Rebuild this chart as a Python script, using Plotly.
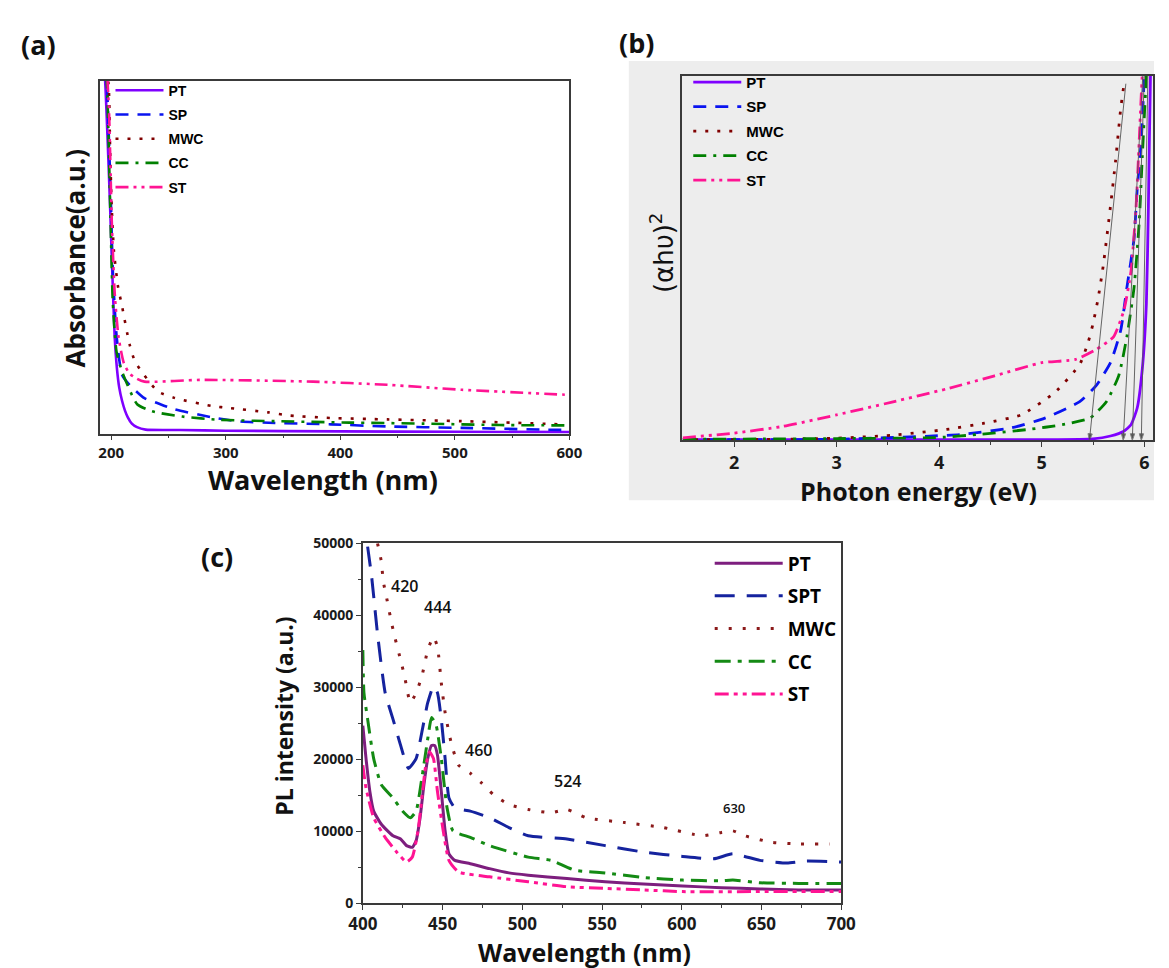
import plotly.graph_objects as go

# ---------------- Panel (a): absorbance ----------------
a_PT_x = [193, 195, 197, 199, 201, 203, 205, 207, 209.5, 212, 214.5, 218, 222.5, 230, 260, 300, 400, 500, 600]
a_PT_y = [1.1, 0.98, 0.82, 0.645, 0.45, 0.276, 0.184, 0.13, 0.092, 0.065, 0.046, 0.028, 0.018, 0.011, 0.01, 0.008, 0.006, 0.005, 0.004]
a_SP_x = [194, 196.5, 199.8, 201.4, 204.7, 209.5, 216, 229, 239, 255, 288, 310, 343, 392, 441, 506, 578, 600]
a_SP_y = [1.1, 0.97, 0.645, 0.46, 0.276, 0.166, 0.138, 0.10, 0.088, 0.069, 0.046, 0.035, 0.03, 0.026, 0.02, 0.016, 0.011, 0.01]
a_MWC_x = [195, 198, 199, 200.4, 202.4, 206, 209.5, 216, 221, 240.5, 255, 288, 304, 337, 356, 392, 441, 506, 594]
a_MWC_y = [1.1, 0.97, 0.81, 0.645, 0.516, 0.415, 0.36, 0.253, 0.203, 0.12, 0.101, 0.078, 0.072, 0.06, 0.051, 0.044, 0.04, 0.035, 0.026]
a_CC_x = [194, 196.5, 199.1, 201.4, 204.7, 209.5, 216, 222.6, 235.6, 262, 294, 343, 408, 473.5, 539, 596]
a_CC_y = [1.1, 0.97, 0.645, 0.37, 0.23, 0.175, 0.124, 0.083, 0.063, 0.048, 0.039, 0.035, 0.031, 0.028, 0.024, 0.023]
a_ST_x = [195, 198, 200.5, 203, 206.3, 211, 216, 222.6, 229, 278, 376, 441, 506, 596]
a_ST_y = [1.1, 0.92, 0.6, 0.4, 0.276, 0.2, 0.17, 0.155, 0.147, 0.152, 0.147, 0.138, 0.124, 0.11]
a_names = ["PT", "SP", "MWC", "CC", "ST"]

# ---------------- Panel (b): Tauc plot ----------------
b_PT_x = [1.5, 3.0, 5.0, 5.5, 5.67, 5.8, 5.87, 5.93, 5.98, 6.02, 6.04, 6.06, 6.07]
b_PT_y = [0.002, 0.002, 0.002, 0.004, 0.012, 0.025, 0.043, 0.088, 0.195, 0.374, 0.642, 1.0, 1.05]
b_SP_x = [1.5, 3.0, 4.2, 4.7, 5.03, 5.37, 5.53, 5.67, 5.77, 5.83, 5.9, 5.93, 5.97, 6.0, 6.01]
b_SP_y = [0.002, 0.003, 0.016, 0.034, 0.061, 0.106, 0.15, 0.213, 0.302, 0.419, 0.553, 0.687, 0.82, 1.0, 1.05]
b_MWC_x = [1.5, 2.5, 3.0, 3.54, 4.07, 4.44, 4.8, 5.13, 5.37, 5.45, 5.5, 5.55, 5.6, 5.67, 5.72, 5.77, 5.8]
b_MWC_y = [0.002, 0.003, 0.006, 0.014, 0.03, 0.047, 0.07, 0.132, 0.208, 0.267, 0.32, 0.39, 0.48, 0.642, 0.767, 0.91, 0.973]
b_CC_x = [1.5, 3.0, 4.0, 4.37, 4.87, 5.2, 5.47, 5.63, 5.75, 5.83, 5.9, 5.95, 5.98, 6.02, 6.03]
b_CC_y = [0.003, 0.005, 0.008, 0.016, 0.03, 0.043, 0.061, 0.106, 0.177, 0.284, 0.419, 0.597, 0.776, 1.0, 1.05]
b_ST_x = [1.5, 2.0, 2.47, 3.0, 3.54, 4.07, 4.54, 5.0, 5.33, 5.53, 5.7, 5.8, 5.87, 5.92, 5.95, 5.98, 6.0]
b_ST_y = [0.007, 0.02, 0.038, 0.07, 0.105, 0.141, 0.177, 0.213, 0.222, 0.249, 0.284, 0.356, 0.463, 0.642, 0.82, 1.0, 1.05]
# tangent (band-gap extrapolation) lines
b_gap_x = [5.465, 5.794, 5.883, 5.971]
b_tan_top_x = [5.82, 5.985, 6.0, 6.035]
b_tan_top_y = [0.978, 1.0, 1.0, 1.0]

# ---------------- Panel (c): PL spectra ----------------
c_PT_x = [400, 402, 404.4, 406.8, 411.6, 418.9, 423.7, 427.4, 431, 433.4, 435.9, 438.3, 440.7, 443.1, 445, 446.8, 449.2, 451.6, 454, 457.7, 467.4, 479.5, 491.6, 503.7, 528, 552, 576, 600.6, 624.9, 649, 673, 700]
c_PT_y = [24660, 20090, 15520, 12780, 10960, 9360, 8900, 7990, 7760, 8680, 11870, 16440, 20090, 21920, 21920, 20550, 15520, 10050, 6850, 5940, 5480, 4790, 4200, 3880, 3420, 2970, 2650, 2370, 2150, 1960, 1830, 1830]
c_SPT_x = [403, 405.6, 409.2, 414, 418.9, 423.7, 428.6, 433.4, 437, 440.7, 444.3, 446.8, 449.2, 451.6, 454, 457.7, 467.4, 479.5, 491.6, 503.7, 528, 552, 576.4, 600.6, 620, 632, 649, 666, 678, 700]
c_SPT_y = [49540, 45200, 37440, 29220, 25570, 21920, 18720, 20090, 23740, 27850, 30140, 29220, 25570, 20090, 14610, 13240, 12780, 11870, 10500, 9360, 8900, 7990, 7080, 6480, 6160, 6850, 5940, 5570, 5840, 5710]
c_MWC_x = [409.2, 411.6, 412.8, 415.3, 417.7, 420, 423.7, 426.2, 429.8, 433.4, 437, 440.7, 444.3, 446.8, 449.2, 451.6, 455.3, 460, 467.4, 474.6, 481.9, 491.6, 503.7, 518, 528, 540, 564.3, 588.5, 612.7, 624.9, 632, 639.4, 656.4, 673.3, 692.7]
c_MWC_y = [50000, 47490, 44750, 42000, 39270, 37000, 33790, 31500, 27850, 29220, 31500, 35160, 37000, 35620, 30590, 26480, 22370, 19180, 18040, 16670, 15070, 13700, 13010, 12560, 13010, 11870, 11190, 10500, 9360, 9820, 10050, 9360, 8450, 8220, 8220]
c_CC_x = [400, 400.7, 403, 406.8, 411.6, 418.9, 425, 429.8, 433.4, 437, 440.7, 443.1, 446, 449.2, 452.8, 456.5, 467.4, 479.5, 503.7, 518, 532.8, 552, 576.4, 600.6, 624.9, 632, 649, 673.3, 700]
c_CC_y = [35160, 29220, 25570, 20090, 16440, 14610, 12780, 11870, 12780, 17350, 22830, 25800, 24660, 20090, 13240, 10050, 9130, 7990, 6390, 5940, 4570, 4200, 3560, 3200, 3100, 3200, 2830, 2740, 2740]
c_ST_x = [400, 402, 406.8, 414, 421.3, 427.4, 431, 434.6, 437, 439.5, 441.9, 444.3, 446.8, 450.4, 454, 460, 479.5, 503.7, 528, 552, 576.4, 600.6, 649, 700]
c_ST_y = [19180, 15980, 11870, 9130, 7080, 5710, 6390, 10050, 14610, 19180, 21000, 20090, 15520, 10050, 5940, 4340, 3650, 2970, 2280, 2050, 1830, 1600, 1600, 1600]
c_names = ["PT", "SPT", "MWC", "CC", "ST"]
c_peak_labels = ["420", "444", "460", "524", "630"]
c_peak_x = [426, 446.8, 472.5, 528.5, 633]
c_peak_y = [42300, 39300, 19500, 15100, 11700]

W, H = 1169, 968
def px(x):
    return x / W
def py(y):
    return 1 - y / H

colors_ab = ["#7F00FF", "#0A14F0", "#800000", "#008000", "#FF1493"]
dashes_ab = ["solid", "13px,9px", "3px,9px", "13px,7px,3px,7px", "13px,5px,3px,5px,3px,5px"]
colors_c = ["#7D1E7E", "#15239E", "#8B1A1A", "#148A14", "#FF1493"]
dashes_c = ["solid", "20px,12px", "3px,11px", "16px,7px,4px,7px", "14px,5px,4px,5px,4px,5px"]

fig = go.Figure()

a_data = [(a_PT_x, a_PT_y), (a_SP_x, a_SP_y), (a_MWC_x, a_MWC_y), (a_CC_x, a_CC_y), (a_ST_x, a_ST_y)]
for i, (xs, ys) in enumerate(a_data):
    fig.add_trace(go.Scatter(x=xs, y=ys, mode="lines", name=a_names[i], xaxis="x", yaxis="y",
                             line=dict(color=colors_ab[i], width=2.6, dash=dashes_ab[i], shape="spline", smoothing=0.6),
                             legend="legend", legendgroup="a" + str(i)))

b_data = [(b_PT_x, b_PT_y), (b_SP_x, b_SP_y), (b_MWC_x, b_MWC_y), (b_CC_x, b_CC_y), (b_ST_x, b_ST_y)]
for i, (xs, ys) in enumerate(b_data):
    fig.add_trace(go.Scatter(x=xs, y=ys, mode="lines", name=a_names[i], xaxis="x2", yaxis="y2",
                             line=dict(color=colors_ab[i], width=2.8, dash=dashes_ab[i], shape="spline", smoothing=0.5),
                             legend="legend2", legendgroup="b" + str(i)))
for i in range(len(b_gap_x)):
    fig.add_trace(go.Scatter(x=[b_tan_top_x[i], b_gap_x[i]], y=[b_tan_top_y[i], 0], mode="lines+markers",
                             xaxis="x2", yaxis="y2", showlegend=False, hoverinfo="skip",
                             line=dict(color="#555555", width=0.9),
                             marker=dict(symbol="arrow", angleref="previous", size=[0, 7], color="#111111")))

c_data = [(c_PT_x, c_PT_y), (c_SPT_x, c_SPT_y), (c_MWC_x, c_MWC_y), (c_CC_x, c_CC_y), (c_ST_x, c_ST_y)]
for i, (xs, ys) in enumerate(c_data):
    fig.add_trace(go.Scatter(x=xs, y=ys, mode="lines", name=c_names[i], xaxis="x3", yaxis="y3",
                             line=dict(color=colors_c[i], width=3, dash=dashes_c[i], shape="spline", smoothing=0.5),
                             legend="legend3", legendgroup="c" + str(i)))

tickfont_base = dict(family="Open Sans", color="#1a1a1a", weight="bold")
frame = dict(showline=True, mirror=True, linecolor="#3a3a3a", linewidth=1.6, showgrid=False, zeroline=False)

fig.update_layout(
    width=W, height=H, margin=dict(l=0, r=0, t=0, b=0),
    paper_bgcolor="white", plot_bgcolor="white",
    xaxis=dict(domain=[px(87), px(569)], range=[190, 600], anchor="y", tickvals=[200, 300, 400, 500, 600],
               ticks="outside", ticklen=5, tickwidth=1.2, tickcolor="#3a3a3a",
               minor=dict(tickvals=[250, 350, 450, 550], ticks="outside", ticklen=3, tickcolor="#3a3a3a"),
               tickfont=dict(size=15, **tickfont_base), **frame),
    yaxis=dict(domain=[py(432), py(72)], range=[0, 1], anchor="x", showticklabels=False, ticks="", **frame),
    xaxis2=dict(domain=[px(685), px(1168)], range=[1.496, 6.085], anchor="y2", tickvals=[2, 3, 4, 5, 6],
                ticks="outside", ticklen=5, tickwidth=1.2, tickcolor="#3a3a3a",
                minor=dict(tickvals=[2.5, 3.5, 4.5, 5.5], ticks="outside", ticklen=3, tickcolor="#3a3a3a"),
                tickfont=dict(size=18, **tickfont_base), **frame),
    yaxis2=dict(domain=[py(439), py(67)], range=[0, 1], anchor="x2", showticklabels=False, ticks="", **frame),
    xaxis3=dict(domain=[px(357), px(848)], range=[400, 700], anchor="y3", dtick=50,
                ticks="outside", ticklen=5, tickwidth=1.2, tickcolor="#3a3a3a",
                minor=dict(dtick=25, ticks="outside", ticklen=3, tickcolor="#3a3a3a"),
                tickfont=dict(size=17, **tickfont_base), **frame),
    yaxis3=dict(domain=[py(911), py(544)], range=[0, 50000], anchor="x3", dtick=10000, tickformat="d",
                ticks="outside", ticklen=5, tickwidth=1.2, tickcolor="#3a3a3a",
                minor=dict(dtick=5000, ticks="outside", ticklen=3, tickcolor="#3a3a3a"),
                tickfont=dict(size=14, **tickfont_base), **frame),
    legend=dict(x=px(98), y=py(66), xanchor="left", yanchor="top", bgcolor="rgba(0,0,0,0)",
                font=dict(family="Liberation Sans", size=14, color="black", weight="bold"),
                itemwidth=48, tracegroupgap=3, traceorder="grouped"),
    legend2=dict(x=px(691), y=py(57), xanchor="left", yanchor="top", bgcolor="rgba(0,0,0,0)",
                 font=dict(family="Liberation Sans", size=15, color="black", weight="bold"),
                 itemwidth=48, tracegroupgap=2, traceorder="grouped"),
    legend3=dict(x=px(713), y=py(545), xanchor="left", yanchor="top", bgcolor="rgba(0,0,0,0)",
                 font=dict(family="Open Sans", size=19, color="black", weight="bold"),
                 itemwidth=68, tracegroupgap=5, traceorder="grouped"),
    showlegend=True,
)

# grey backdrop behind panel (b)
fig.add_shape(type="rect", xref="paper", yref="paper", x0=px(630), x1=1, y0=py(500), y1=py(52),
              fillcolor="#ededed", line=dict(width=0), layer="below")

ann = []
title_font = dict(family="Open Sans", color="#111111", weight="bold")
ann.append(dict(text="(a)", x=px(24), y=py(35), font=dict(size=27, **title_font)))
ann.append(dict(text="(b)", x=px(638), y=py(33), font=dict(size=27, **title_font)))
ann.append(dict(text="(c)", x=px(207), y=py(557), font=dict(size=27, **title_font)))
ann.append(dict(text="Absorbance(a.u.)", x=px(62), y=py(253), textangle=-90, font=dict(size=26, **title_font)))
ann.append(dict(text="Wavelength (nm)", x=px(316), y=py(479), font=dict(size=27, **title_font)))
ann.append(dict(text="(αhυ)<sup>2</sup>", x=px(664), y=py(247), textangle=-90,
                font=dict(family="DejaVu Sans", size=26, color="#111111")))
ann.append(dict(text="Photon energy (eV)", x=px(927), y=py(491), font=dict(size=25, **title_font)))
ann.append(dict(text="PL intensity (a.u.)", x=px(276), y=py(720), textangle=-90, font=dict(size=23, **title_font)))
ann.append(dict(text="Wavelength (nm)", x=px(584), y=py(961), font=dict(size=25, **title_font)))
for a in ann:
    a.update(xref="paper", yref="paper", showarrow=False, xanchor="center", yanchor="middle")
for i, t in enumerate(c_peak_labels):
    ann.append(dict(text=t, x=c_peak_x[i], y=c_peak_y[i], xref="x3", yref="y3", showarrow=False,
                    yanchor="bottom", xanchor="center",
                    font=dict(family="Open Sans", size=13 if t == "630" else 16, color="#111111", weight=600)))
fig.update_layout(annotations=ann)

fig.write_html("out.html")
